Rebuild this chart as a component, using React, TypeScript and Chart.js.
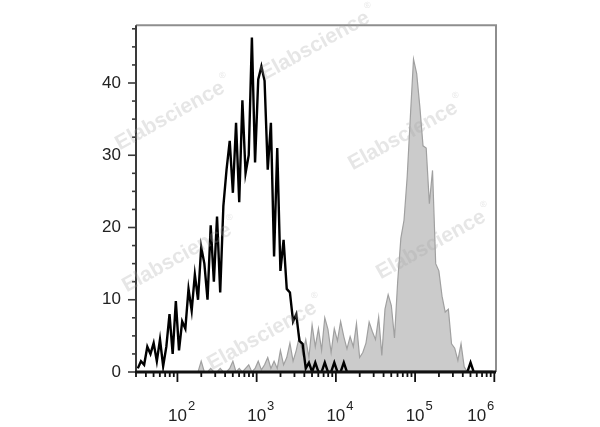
import React, { useEffect, useRef } from 'react';
import { Chart, registerables } from 'chart.js';

Chart.register(...registerables);

// Histogram channels: bin i sits at 10^(BIN_LOG_START + i * BIN_LOG_STEP)
const BIN_LOG_START = 1.5;
const BIN_LOG_STEP = 0.04;

// Isotype control (black line)
const isotypeCounts = [
  0.5, 1.5, 1.0, 3.5, 2.5, 4.0, 1.5, 4.5, 0.8, 3.5,
  8.0, 2.5, 9.8, 3.0, 7.0, 6.0, 11.5, 8.5, 13.5, 10,
  17.3, 15, 10, 20.3, 12.5, 21.5, 11, 23, 28, 32,
  24.8, 34.5, 23.5, 37.6, 27.5, 30, 46.3, 29, 40.5, 42.3,
  40.3, 28, 34.5, 16, 31, 14, 18.3, 11.5, 11, 7,
  8, 4.3, 3.9, 0.5, 1.3, 0, 1.3, 0, 0, 1.3,
  0, 0, 1.3, 0, 0, 1.3, 0, 0, 0, 0,
  0, 0, 0, 0, 0, 0, 0, 0, 0, 0,
  0, 0, 0, 0, 0, 0, 0, 0, 0, 0,
  0, 0, 0, 0, 0, 0, 0, 0, 0, 0,
  0, 0, 0, 0, 0, 1.3, 0, 0, 0, 0,
  0, 0, 0,
];

// Stained sample (gray filled)
const stainedCounts = [
  0, 0, 0, 0, 0, 0, 0, 0, 0, 0,
  0, 0, 0, 0, 0, 0, 0, 0, 0, 0,
  1.5, 0, 0, 0.5, 0, 0, 0.5, 0, 0, 0.5,
  1.5, 0, 0.5, 0, 0.5, 1.0, 0, 0.5, 1.5, 0.3,
  1.0, 2.0, 0.5, 1.5, 0.5, 3.0, 1.0, 2.0, 4.0, 1.5,
  3.0, 5.0, 2.5, 4.5, 2.0, 6.5, 3.5, 6.0, 3.0, 7.5,
  5.9, 2.7, 6.0, 4.3, 7.0, 4.9, 3.2, 4.9, 3.5, 6.7,
  2.0, 2.7, 4.0, 6.9, 5.6, 4.5, 7.6, 2.3, 8.7, 10.7,
  9.2, 4.7, 12.5, 18.5, 21, 27, 35.3, 43.3, 41.3, 36.7,
  31.3, 31, 23.3, 27.9, 15, 14, 10.5, 8.3, 8.7, 3.9,
  3.3, 1.6, 3.9, 0.7, 0, 0, 0, 0, 0, 0,
  0, 0, 0,
];

const yTickValues = [0, 10, 20, 30, 40];
const yMinorStep = 2.5;
const xDecadeExponents = [2, 3, 4, 5, 6];
const X_MIN = 30;
const X_MAX = 1.05e6;
const Y_MAX = 48;

const WATERMARK = 'Elabscience';
const watermarkSpots = [
  [170, 116],
  [315, 46],
  [403, 136],
  [177, 258],
  [431, 245],
  [262, 336],
];

const FONT = '"Liberation Sans", Arial, Helvetica, sans-serif';

const toPoints = (counts: number[]) =>
  counts.map((c, i) => ({ x: Math.pow(10, BIN_LOG_START + i * BIN_LOG_STEP), y: c }));

const framePlugin = {
  id: 'frameAxes',
  afterDatasetsDraw(chart: any) {
    const { ctx, chartArea, scales } = chart;
    const { left, right, top, bottom } = chartArea;
    const xs = scales.x;
    const ys = scales.y;
    ctx.save();
    // top and right frame
    ctx.strokeStyle = '#8e8e8e';
    ctx.lineWidth = 2;
    ctx.beginPath();
    ctx.moveTo(left, top);
    ctx.lineTo(right, top);
    ctx.lineTo(right, bottom);
    ctx.stroke();
    // left axis
    ctx.strokeStyle = '#3a3a3a';
    ctx.lineWidth = 2;
    ctx.beginPath();
    ctx.moveTo(left, top);
    ctx.lineTo(left, bottom);
    ctx.stroke();
    // y ticks
    ctx.lineWidth = 1.6;
    for (let v = 0; v <= Y_MAX; v += yMinorStep) {
      const py = ys.getPixelForValue(v);
      const major = yTickValues.includes(v);
      const len = major ? 8 : 4;
      ctx.beginPath();
      ctx.moveTo(left - len, py);
      ctx.lineTo(left, py);
      ctx.stroke();
    }
    // bottom axis
    ctx.strokeStyle = '#111';
    ctx.lineWidth = 3;
    ctx.beginPath();
    ctx.moveTo(left - 1, bottom);
    ctx.lineTo(right, bottom);
    ctx.stroke();
    // x ticks
    ctx.lineWidth = 1.8;
    for (let e = 1; e <= 6; e++) {
      for (let m = 1; m <= 9; m++) {
        const v = m * Math.pow(10, e);
        if (v < X_MIN || v > X_MAX) continue;
        const px = xs.getPixelForValue(v);
        const len = m === 1 ? 10 : 5;
        ctx.beginPath();
        ctx.moveTo(px, bottom);
        ctx.lineTo(px, bottom + len);
        ctx.stroke();
      }
    }
    // x labels 10^n
    ctx.fillStyle = '#222';
    ctx.textBaseline = 'alphabetic';
    xDecadeExponents.forEach((e, idx) => {
      const px = xs.getPixelForValue(Math.pow(10, e));
      ctx.font = `17px ${FONT}`;
      const baseW = ctx.measureText('10').width;
      ctx.font = `13px ${FONT}`;
      const expW = ctx.measureText(String(e)).width;
      let baseLeft = px - baseW / 2;
      if (idx === xDecadeExponents.length - 1) {
        baseLeft = px - baseW - expW - 1;
      }
      ctx.textAlign = 'left';
      ctx.font = `17px ${FONT}`;
      ctx.fillText('10', baseLeft, 421);
      ctx.font = `13px ${FONT}`;
      ctx.fillText(String(e), baseLeft + baseW + 1, 410);
    });
    ctx.restore();
  },
  afterDraw(chart: any) {
    const { ctx } = chart;
    ctx.save();
    ctx.fillStyle = 'rgba(165,165,165,0.28)';
    ctx.textAlign = 'center';
    ctx.textBaseline = 'middle';
    watermarkSpots.forEach(([cx, cy]) => {
      ctx.save();
      ctx.translate(cx, cy);
      ctx.rotate((-29 * Math.PI) / 180);
      ctx.font = `bold 21px ${FONT}`;
      const w = ctx.measureText(WATERMARK).width;
      ctx.fillText(WATERMARK, 0, 0);
      ctx.font = `9px ${FONT}`;
      ctx.fillText('\u00AE', w / 2 + 5, -10);
      ctx.restore();
    });
    ctx.restore();
  },
};

export default function App() {
  const canvasRef = useRef<HTMLCanvasElement | null>(null);

  useEffect(() => {
    if (!canvasRef.current) return;
    const chart = new Chart(canvasRef.current, {
      type: 'line',
      data: {
        datasets: [
          {
            label: 'Isotype',
            data: toPoints(isotypeCounts),
            borderColor: '#000000',
            borderWidth: 2.4,
            fill: false,
            pointRadius: 0,
            tension: 0,
          },
          {
            label: 'Stained',
            data: toPoints(stainedCounts),
            borderColor: '#a0a0a0',
            borderWidth: 1.2,
            backgroundColor: '#cbcbcb',
            fill: 'origin',
            pointRadius: 0,
            tension: 0,
          },
        ],
      },
      options: {
        responsive: false,
        animation: false,
        layout: { padding: { left: 0, top: 13, right: 104, bottom: 0 } },
        plugins: {
          legend: { display: false },
          tooltip: { enabled: false },
        },
        scales: {
          x: {
            type: 'logarithmic',
            min: X_MIN,
            max: X_MAX,
            grid: { display: false, drawTicks: false },
            border: { display: false },
            ticks: { display: false },
            afterFit: (scale: any) => {
              scale.height = 55;
            },
          },
          y: {
            type: 'linear',
            min: 0,
            max: Y_MAX,
            grid: { display: false, drawTicks: false },
            border: { display: false },
            afterBuildTicks: (scale: any) => {
              scale.ticks = yTickValues.map((v) => ({ value: v }));
            },
            ticks: {
              padding: 15,
              color: '#222',
              font: { size: 17, family: FONT },
            },
            afterFit: (scale: any) => {
              scale.width = 136;
            },
          },
        },
      },
      plugins: [framePlugin],
    });
    return () => chart.destroy();
  }, []);

  return (
    <div style={{ position: 'absolute', left: 0, top: 0, width: 600, height: 427, background: '#fff' }}>
      <canvas ref={canvasRef} width={600} height={427} style={{ display: 'block' }} />
    </div>
  );
}
